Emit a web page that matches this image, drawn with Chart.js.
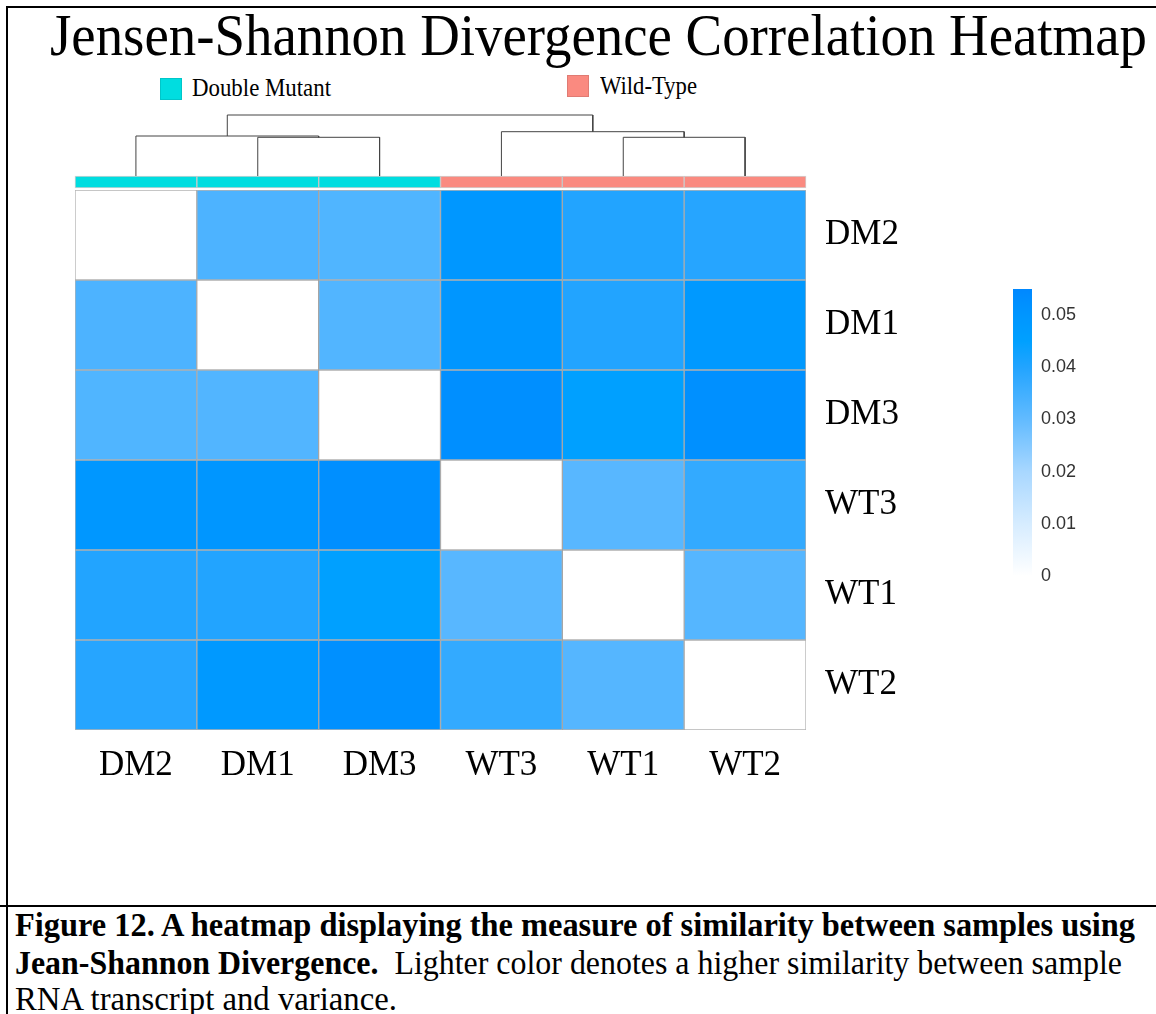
<!DOCTYPE html>
<html>
<head>
<meta charset="utf-8">
<script src="https://cdn.jsdelivr.net/npm/chart.js@4.4.1/dist/chart.umd.min.js"></script>
<style>
  html, body { margin: 0; padding: 0; background: #fff; }
  #page { position: relative; width: 1156px; height: 1014px; overflow: hidden;
          font-family: "Liberation Serif", "Times New Roman", serif; color: #000; }
  .txt { position: absolute; white-space: nowrap; line-height: 1; transform-origin: 0 50%; }
  .rule { position: absolute; background: #000; }
  .swatch { position: absolute; width: 22px; height: 22px; box-sizing: border-box;
            border: 1px solid rgba(0, 0, 0, 0.1); }
  canvas { position: absolute; }
</style>
</head>
<body>
<div id="page">
  <div class="rule" style="left:6px; top:6px; width:1150px; height:2px"></div>
  <div class="rule" style="left:6px; top:6px; width:2px; height:1008px"></div>
  <div class="rule" style="left:0; top:905px; width:1156px; height:2px"></div>

  <div class="txt" data-w="1097" style="left:50px; top:5px; font-size:60px">Jensen-Shannon Divergence Correlation Heatmap</div>

  <div class="swatch" id="sw0" style="left:160px; top:78px"></div>
  <div class="txt" id="lg0" data-w="139" style="left:192px; top:75px; font-size:26px"></div>
  <div class="swatch" id="sw1" style="left:567px; top:75px"></div>
  <div class="txt" id="lg1" data-w="97" style="left:600px; top:73px; font-size:26px"></div>

  <canvas id="dendro" width="731" height="76" style="left:75px; top:100px"></canvas>
  <canvas id="heat" width="900" height="640" style="left:74px; top:170px"></canvas>
  <canvas id="scale" width="90" height="310" style="left:1013px; top:280px"></canvas>

  <div class="txt" data-w="1120" style="left:15px; top:908px; font-size:34px; font-weight:bold">Figure 12. A heatmap displaying the measure of similarity between samples using</div>
  <div class="txt" data-w="1107" style="left:15px; top:946px; font-size:34px"><b>Jean-Shannon Divergence.</b>&nbsp; Lighter color denotes a higher similarity between sample</div>
  <div class="txt" data-w="382" style="left:15px; top:982px; font-size:34px">RNA transcript and variance.</div>
</div>

<script>
const samples = ["DM2", "DM1", "DM3", "WT3", "WT1", "WT2"];
const sampleGroup = [0, 0, 0, 1, 1, 1];
const groupNames = ["Double Mutant", "Wild-Type"];
const groupColors = ["#00dde0", "#fa8a80"];

// divergence between samples, rows and columns in the order of samples
const rowDM2 = [0, 0.0333, 0.0328, 0.0495, 0.0400, 0.0394];
const rowDM1 = [0.0333, 0, 0.0325, 0.0500, 0.0400, 0.0485];
const rowDM3 = [0.0328, 0.0325, 0, 0.0525, 0.0450, 0.0520];
const rowWT3 = [0.0495, 0.0500, 0.0525, 0, 0.0316, 0.0373];
const rowWT1 = [0.0400, 0.0400, 0.0450, 0.0316, 0, 0.0320];
const rowWT2 = [0.0394, 0.0485, 0.0520, 0.0373, 0.0320, 0];
const divergence = [rowDM2, rowDM1, rowDM3, rowWT3, rowWT1, rowWT2];

// column dendrogram, hclust style: -k is sample k, +k is merge k
const mergeA = [-2, -1, -5, -4, 2];
const mergeB = [-3, 1, -6, 3, 4];
const mergeHeight = [0.0387, 0.0400, 0.0387, 0.0443, 0.0610];

const colorMax = 0.055;
const rampStops = [0, 0.01, 0.02, 0.03, 0.04, 0.045, 0.05, 0.055];
const rampColors = ["#ffffff", "#d6ecff", "#a8d7ff", "#62bbff", "#22a4ff", "#00a0ff", "#0096ff", "#0088ff"];

const serif = "'Liberation Serif', 'Times New Roman', serif";

function hexToRgb(h) {
    const n = parseInt(h.slice(1), 16);
    return [(n >> 16) & 255, (n >> 8) & 255, n & 255];
}

function colorFor(v) {
    for (let i = 1; i < rampStops.length; i++) {
        if (v <= rampStops[i]) {
            const t = (v - rampStops[i - 1]) / (rampStops[i] - rampStops[i - 1]);
            const a = hexToRgb(rampColors[i - 1]);
            const b = hexToRgb(rampColors[i]);
            const c = a.map((x, k) => Math.round(x + (b[k] - x) * t));
            return `rgb(${c[0]}, ${c[1]}, ${c[2]})`;
        }
    }
    return rampColors[rampColors.length - 1];
}

// legend
groupNames.forEach((name, i) => {
    document.getElementById("lg" + i).textContent = name;
    document.getElementById("sw" + i).style.background = groupColors[i];
});

// squeeze text to the widths in the figure
document.querySelectorAll(".txt[data-w]").forEach((el) => {
    const w = el.getBoundingClientRect().width;
    el.style.transform = `scaleX(${el.dataset.w / w})`;
});

// dendrogram
const mergeX = [];
const nodeX = (id) => (id < 0 ? -id - 0.5 : mergeX[id - 1]);
const nodeH = (id) => (id < 0 ? 0 : mergeHeight[id - 1]);
const dendroSets = mergeA.map((a, k) => {
    const b = mergeB[k];
    const h = mergeHeight[k];
    const xa = nodeX(a);
    const xb = nodeX(b);
    mergeX.push((xa + xb) / 2);
    return {
        data: [
            { x: xa, y: nodeH(a) },
            { x: xa, y: h },
            { x: xb, y: h },
            { x: xb, y: nodeH(b) },
        ],
        showLine: true,
        borderColor: "#444",
        borderWidth: 1,
        pointRadius: 0,
        tension: 0,
        clip: false,
    };
});

new Chart(document.getElementById("dendro").getContext("2d"), {
    type: "scatter",
    data: { datasets: dendroSets },
    options: {
        animation: false,
        responsive: false,
        events: [],
        layout: { padding: 0 },
        plugins: { legend: { display: false }, tooltip: { enabled: false } },
        scales: {
            x: { type: "linear", min: 0, max: samples.length, display: false },
            y: { type: "linear", min: 0, max: 0.076, display: false },
        },
    },
});

// heatmap: one dataset per row, plus the group annotation strip above it
const annotTop = 14 / 90;
const annotGap = 2 / 90;

const heatSets = divergence.map((row, i) => ({
    data: row.map(() => [i, i + 1]),
    backgroundColor: row.map(colorFor),
    borderColor: "rgba(128, 128, 128, 0.6)",
    borderWidth: 1,
    borderSkipped: false,
    grouped: false,
    barPercentage: 1,
    categoryPercentage: 1,
}));

heatSets.push({
    data: samples.map(() => [-annotTop, -annotGap]),
    backgroundColor: sampleGroup.map((g) => groupColors[g]),
    borderColor: "rgba(150, 150, 150, 0.45)",
    borderWidth: 1,
    borderSkipped: false,
    grouped: false,
    barPercentage: 1,
    categoryPercentage: 1,
    clip: false,
});

new Chart(document.getElementById("heat").getContext("2d"), {
    type: "bar",
    data: { labels: samples, datasets: heatSets },
    options: {
        animation: false,
        responsive: false,
        events: [],
        layout: { padding: { top: 20, left: 1, right: 0, bottom: 0 } },
        plugins: { legend: { display: false }, tooltip: { enabled: false } },
        scales: {
            x: {
                grid: { display: false, drawTicks: false },
                border: { display: false },
                afterFit: (s) => {
                    s.height = 80;
                    s.paddingLeft = 0;
                    s.paddingRight = 0;
                },
                ticks: {
                    color: "#000",
                    padding: 15,
                    maxRotation: 0,
                    autoSkip: false,
                    font: { family: serif, size: 35 },
                },
            },
            y: {
                type: "linear",
                position: "right",
                reverse: true,
                min: 0,
                max: samples.length,
                grid: { display: false, drawTicks: false },
                border: { display: false },
                afterFit: (s) => {
                    s.width = 168;
                    s.paddingTop = 0;
                    s.paddingBottom = 0;
                },
                afterBuildTicks: (s) => {
                    s.ticks = samples.map((_, i) => ({ value: i + 0.5 }));
                },
                ticks: {
                    color: "#000",
                    padding: 19,
                    autoSkip: false,
                    font: { family: serif, size: 35 },
                    callback: (v, i) => samples[i],
                },
            },
        },
    },
});

// colour key
new Chart(document.getElementById("scale").getContext("2d"), {
    type: "bar",
    data: {
        labels: [""],
        datasets: [
            {
                data: [[0, colorMax]],
                borderWidth: 0,
                barPercentage: 1,
                categoryPercentage: 1,
                backgroundColor: (c) => {
                    const chart = c.chart;
                    if (!chart.chartArea) return rampColors[rampColors.length - 1];
                    const y = chart.scales.y;
                    const g = chart.ctx.createLinearGradient(
                        0, y.getPixelForValue(0), 0, y.getPixelForValue(colorMax)
                    );
                    rampStops.forEach((s, i) => g.addColorStop(s / colorMax, rampColors[i]));
                    return g;
                },
            },
        ],
    },
    options: {
        animation: false,
        responsive: false,
        events: [],
        layout: { padding: { top: 9, bottom: 14, left: 0, right: 0 } },
        plugins: { legend: { display: false }, tooltip: { enabled: false } },
        scales: {
            x: { display: false },
            y: {
                position: "right",
                min: 0,
                max: colorMax,
                grid: { display: false, drawTicks: false },
                border: { display: false },
                afterFit: (s) => {
                    s.width = 71;
                    s.paddingTop = 0;
                    s.paddingBottom = 0;
                },
                ticks: {
                    stepSize: 0.01,
                    includeBounds: false,
                    padding: 9,
                    color: "#333",
                    font: { family: "'Liberation Sans', Arial, sans-serif", size: 18 },
                    callback: (v) => String(+v.toFixed(2)),
                },
            },
        },
    },
});
</script>
</body>
</html>
